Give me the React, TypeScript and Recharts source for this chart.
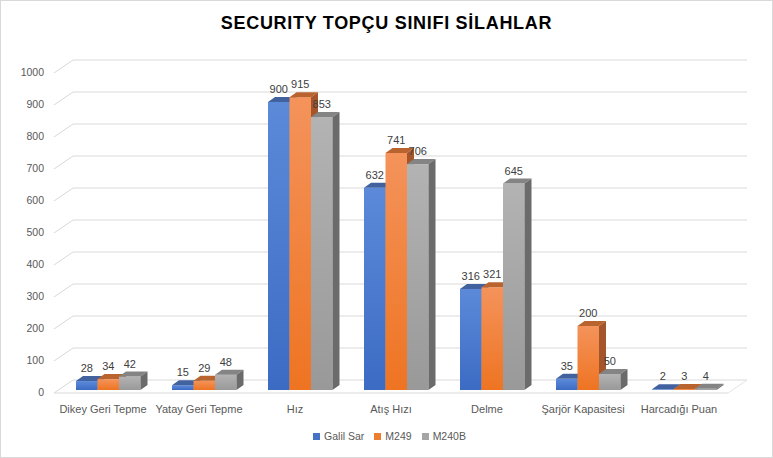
import React from "react";
import { BarChart, Bar, XAxis, YAxis, CartesianGrid, LabelList } from "recharts";

if (typeof document !== "undefined") document.body.style.margin = "0";

const categories = [
  "Dikey Geri Tepme",
  "Yatay Geri Tepme",
  "Hız",
  "Atış Hızı",
  "Delme",
  "Şarjör Kapasitesi",
  "Harcadığı Puan",
];
const galilSar = [28, 15, 900, 632, 316, 35, 2];
const m249 = [34, 29, 915, 741, 321, 200, 3];
const m240b = [42, 48, 853, 706, 645, 50, 4];
const yTicks = [0, 100, 200, 300, 400, 500, 600, 700, 800, 900, 1000];

const series = [
  { key: "galil", name: "Galil Sar", values: galilSar, light: "#5C8AD9", dark: "#3C6BC4", top: "#41619F", side: "#33549A", swatch: "#4472C4" },
  { key: "m249", name: "M249", values: m249, light: "#F4935B", dark: "#EE7422", top: "#B9642F", side: "#A5552A", swatch: "#ED7D31" },
  { key: "m240b", name: "M240B", values: m240b, light: "#B3B3B3", dark: "#999999", top: "#848484", side: "#6B6B6B", swatch: "#A5A5A5" },
];

const data = categories.map((name, i) => {
  const row: any = { name };
  series.forEach((s) => (row[s.key] = s.values[i]));
  return row;
});

// depth of the fake 3d
const DX = 7;
const DY = 5;
// back wall shift
const WX = 19;
const WY = 10;

const makeShape = (s: any) => (p: any) => {
  const { x, y, width: w, height: h } = p;
  if (w == null || y == null) return null;
  return (
    <g>
      <rect x={x} y={y} width={w} height={Math.max(h, 0.5)} fill={`url(#grad-${s.key})`} />
      <polygon
        points={`${x},${y} ${x + DX},${y - DY} ${x + w + DX},${y - DY} ${x + w},${y}`}
        fill={s.top}
      />
      <polygon
        points={`${x + w},${y} ${x + w + DX},${y - DY} ${x + w + DX},${y + h - DY} ${x + w},${y + h}`}
        fill={s.side}
      />
    </g>
  );
};

const gridLine = (p: any) => {
  const { x1, x2, y1, index } = p;
  const left = x1 - 6;
  const right = x2 - 4;
  return (
    <g key={`g-${index}`}>
      <line x1={left} y1={y1 + 3} x2={left + WX} y2={y1 - WY} stroke="#D9D9D9" strokeWidth={1} />
      <line x1={left + WX} y1={y1 - WY} x2={right + WX} y2={y1 - WY} stroke="#D9D9D9" strokeWidth={1} />
    </g>
  );
};

const floorLine = (p: any) => {
  const { x1, x2, y1, index } = p;
  const left = x1 - 6;
  const right = x2 - 4;
  // only the baseline (value 0) gets the floor front edge
  if (Math.abs(y1 - 390) > 1) return <g key={`f-${index}`} />;
  return (
    <g key={`f-${index}`}>
      <line x1={left} y1={y1 + 3} x2={right} y2={y1 + 3} stroke="#D9D9D9" strokeWidth={1} />
      <line x1={right} y1={y1 + 3} x2={right + WX} y2={y1 - WY} stroke="#E4E4E4" strokeWidth={1} />
    </g>
  );
};

const YTick = (p: any) => (
  <text x={44} y={p.y + 3} textAnchor="end" dominantBaseline="middle" fontSize={10.5} fill="#595959">
    {p.payload.value}
  </text>
);

const XTick = (p: any) => (
  <text x={p.x - 5} y={p.y + 12} textAnchor="middle" dominantBaseline="middle" fontSize={11} fill="#595959">
    {p.payload.value}
  </text>
);

export default function App() {
  return (
    <div
      style={{
        position: "relative",
        width: 773,
        height: 458,
        background: "#fff",
        fontFamily: "'Liberation Sans', Arial, sans-serif",
      }}
    >
      <div
        style={{
          position: "absolute",
          top: 13,
          left: 0,
          width: 773,
          textAlign: "center",
          fontWeight: "bold",
          fontSize: 18,
          letterSpacing: 0.7,
          color: "#000",
        }}
      >
        SECURITY TOPÇU SINIFI SİLAHLAR
      </div>
      <BarChart
        width={773}
        height={458}
        data={data}
        margin={{ top: 70, right: 41, bottom: 38, left: 10 }}
        barGap={0}
        barSize={21.5}
        style={{ fontFamily: "'Liberation Sans', Arial, sans-serif" }}
      >
        <defs>
          {series.map((s) => (
            <linearGradient key={s.key} id={`grad-${s.key}`} x1="0" y1="0" x2="0" y2="1">
              <stop offset="0%" stopColor={s.light} />
              <stop offset="100%" stopColor={s.dark} />
            </linearGradient>
          ))}
        </defs>
        <CartesianGrid vertical={false} horizontal={gridLine} />
        <CartesianGrid vertical={false} horizontal={floorLine} />
        <XAxis dataKey="name" axisLine={false} tickLine={false} height={30} interval={0} tick={XTick} />
        <YAxis
          domain={[0, 1000]}
          ticks={yTicks}
          axisLine={false}
          tickLine={false}
          width={50}
          tick={YTick}
          interval={0}
        />
        {series.map((s) => (
          <Bar key={s.key} dataKey={s.key} name={s.name} isAnimationActive={false} shape={makeShape(s)}>
            <LabelList dataKey={s.key} position="top" offset={9} fontSize={11} fill="#404040" />
          </Bar>
        ))}
      </BarChart>
      <div
        style={{
          position: "absolute",
          top: 430,
          left: 0,
          width: 773,
          display: "flex",
          justifyContent: "center",
          fontSize: 10.5,
          color: "#595959",
          paddingLeft: 6,
          boxSizing: "border-box",
        }}
      >
        {series.map((s) => (
          <div key={s.key} style={{ display: "flex", alignItems: "center", margin: "0 5px" }}>
            <span style={{ display: "inline-block", width: 7, height: 7, background: s.swatch, marginRight: 4 }} />
            <span>{s.name}</span>
          </div>
        ))}
      </div>
      <div
        style={{
          position: "absolute",
          inset: 0,
          border: "1px solid #D9D9D9",
          pointerEvents: "none",
        }}
      />
    </div>
  );
}
